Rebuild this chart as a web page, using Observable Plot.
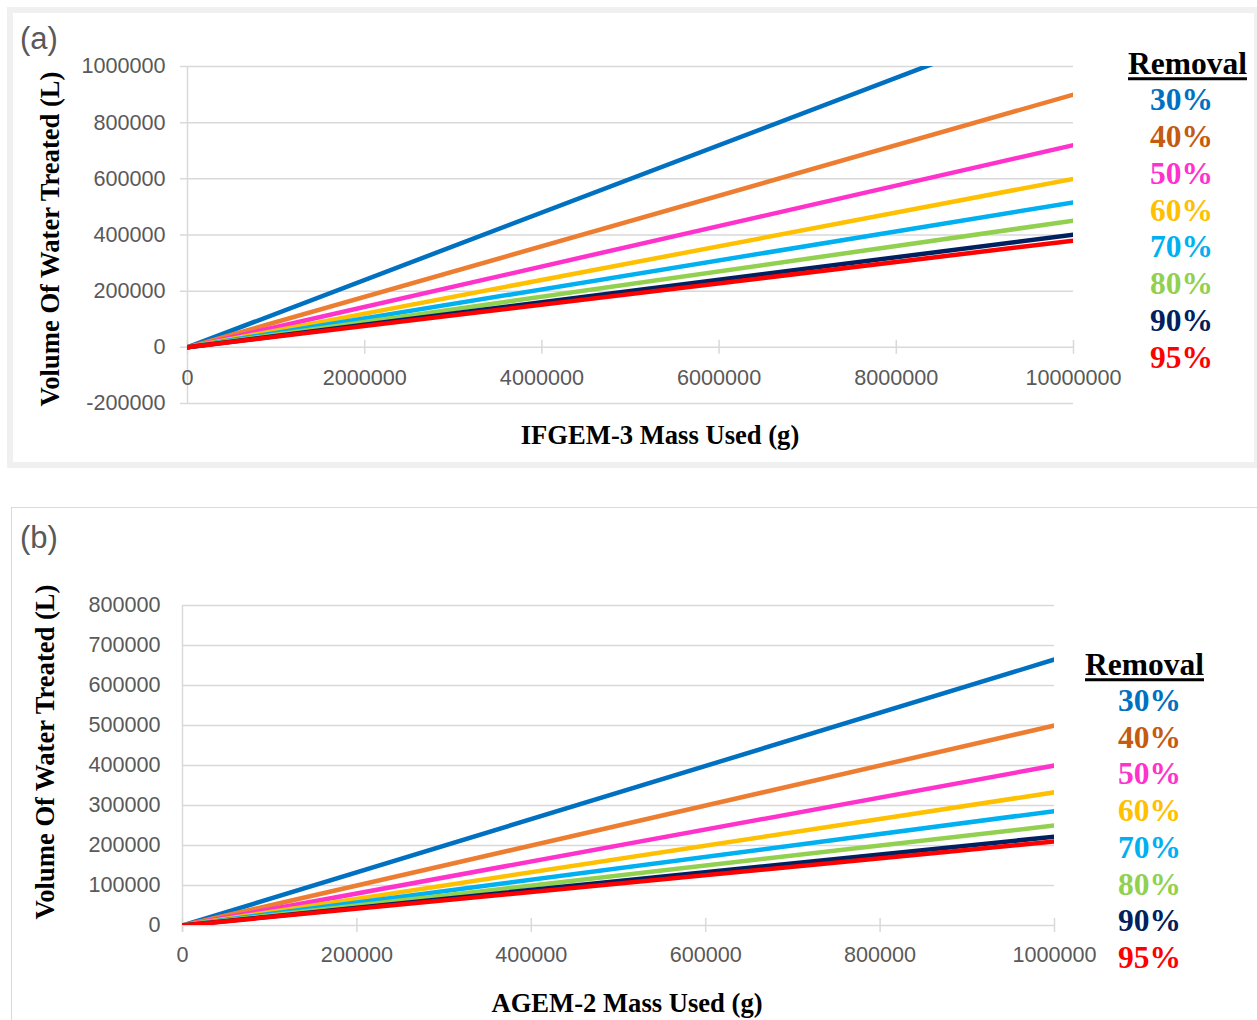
<!DOCTYPE html>
<html>
<head>
<meta charset="utf-8">
<script src="https://cdn.jsdelivr.net/npm/d3@7"></script>
<script src="https://cdn.jsdelivr.net/npm/@observablehq/plot@0.6"></script>
<style>
  body { margin: 0; background: #fff; }
  #page { position: relative; width: 1257px; height: 1020px; overflow: hidden; background: #fff; }
  .frame { position: absolute; box-sizing: border-box; }
  .panel-svg { position: absolute; left: 0; }
  .tag { position: absolute; font-family: "Liberation Sans", sans-serif; color: #595959; font-size: 31px; line-height: 1; transform: translateY(-50%); }
  .title { position: absolute; font-family: "Liberation Serif", "Times New Roman", serif; font-weight: bold; font-size: 26.6px; color: #000; white-space: nowrap; line-height: 1; }
  .xtitle { transform: translate(-50%, -50%); }
  .ytitle { transform: translate(-50%, -50%) rotate(-90deg); }
  .legend-head, .legend-item { position: absolute; font-family: "Liberation Serif", "Times New Roman", serif; font-weight: bold; font-size: 31.5px; white-space: nowrap; line-height: 1; transform: translateY(-50%); }
  .legend-head { color: #000; text-decoration: underline; text-decoration-thickness: 3px; text-underline-offset: 3px; }
</style>
</head>
<body>
<div id="page"></div>
<script>
// Removal levels, shared by both panels
const removal = ["30%", "40%", "50%", "60%", "70%", "80%", "90%", "95%"];
const lineColors = ["#0070C0", "#ED7D31", "#FF33CC", "#FFC000", "#00B0F0", "#92D050", "#002060", "#FF0000"];
const legendColors = ["#0070C0", "#C55A11", "#FF33CC", "#FFC000", "#00B0F0", "#92D050", "#002060", "#FF0000"];

// (a) IFGEM-3: mass used (g) and volume treated (L) per removal level
const massA = [0, 10000000];
const volumeA = [
  [0, 1200000],
  [0, 900000],
  [0, 720000],
  [0, 600000],
  [0, 516000],
  [0, 451000],
  [0, 401000],
  [0, 380000]
];
const xTicksA = [0, 2000000, 4000000, 6000000, 8000000, 10000000];
const yTicksA = [-200000, 0, 200000, 400000, 600000, 800000, 1000000];

// (b) AGEM-2: mass used (g) and volume treated (L) per removal level
const massB = [0, 1000000];
const volumeB = [
  [0, 665000],
  [0, 500000],
  [0, 400000],
  [0, 333000],
  [0, 286000],
  [0, 250000],
  [0, 222000],
  [0, 210000]
];
const xTicksB = [0, 200000, 400000, 600000, 800000, 1000000];
const yTicksB = [0, 100000, 200000, 300000, 400000, 500000, 600000, 700000, 800000];

const page = document.getElementById("page");
const grid = "#d9d9d9";
const tickText = "#595959";

function rowsFor(mass, volumes) {
  const rows = [];
  removal.forEach((r, i) => {
    mass.forEach((m, j) => rows.push({removal: r, mass: m, volume: volumes[i][j]}));
  });
  return rows;
}

function addEl(cls, text, style) {
  const el = document.createElement("div");
  el.className = cls;
  el.textContent = text;
  Object.assign(el.style, style);
  page.appendChild(el);
  return el;
}

function drawPanel(cfg) {
  const frame = document.createElement("div");
  frame.className = "frame";
  Object.assign(frame.style, cfg.frameStyle);
  page.appendChild(frame);

  const chart = Plot.plot({
    width: 1257,
    height: cfg.height,
    marginLeft: cfg.margin[3],
    marginRight: cfg.margin[1],
    marginTop: cfg.margin[0],
    marginBottom: cfg.margin[2],
    x: {domain: cfg.xDomain, axis: null},
    y: {domain: cfg.yDomain, axis: null},
    color: {domain: removal, range: lineColors},
    style: {fontFamily: "'Liberation Sans', sans-serif", fontSize: "21.6px", background: "transparent", overflow: "visible"},
    marks: [
      Plot.ruleY(cfg.yTicks, {stroke: grid, strokeWidth: 1.5, insetLeft: -cfg.yTickOut}),
      Plot.ruleX([cfg.xDomain[0]], {stroke: grid, strokeWidth: 1.5, insetBottom: -cfg.axisOverhang}),
      Plot.ruleX(cfg.xTicks, {x: d => d, y1: () => 0, y2: () => 0, insetTop: -7, insetBottom: -7, stroke: grid, strokeWidth: 1.5}),
      Plot.text(cfg.xTicks, {x: d => d, y: () => 0, dy: cfg.xLabelOffset, text: d => String(d), fill: tickText}),
      Plot.text(cfg.yTicks, {x: () => cfg.xDomain[0], y: d => d, dx: -22, textAnchor: "end", text: d => String(d), fill: tickText}),
      Plot.line(rowsFor(cfg.mass, cfg.volumes), {x: "mass", y: "volume", z: "removal", stroke: "removal", strokeWidth: 4.5, clip: true})
    ]
  });
  chart.classList.add("panel-svg");
  chart.style.top = cfg.top + "px";
  page.appendChild(chart);

  addEl("tag", cfg.tag, {left: "20px", top: cfg.tagY + "px"});
  addEl("title xtitle", cfg.xTitle, {left: cfg.xTitlePos[0] + "px", top: cfg.xTitlePos[1] + "px"});
  addEl("title ytitle", "Volume Of Water Treated (L)", {left: cfg.yTitlePos[0] + "px", top: cfg.yTitlePos[1] + "px"});

  addEl("legend-head", "Removal", {left: cfg.legend.headX + "px", top: cfg.legend.headY + "px"});
  removal.forEach((r, i) => {
    addEl("legend-item", r, {
      left: cfg.legend.itemX + "px",
      top: (cfg.legend.firstY + i * cfg.legend.step) + "px",
      color: legendColors[i]
    });
  });
}

drawPanel({
  frameStyle: {left: "7px", top: "7px", width: "1253px", height: "461px", border: "6px solid #f0f0f0"},
  top: 0,
  height: 468,
  margin: [66, 184, 65, 187],
  xDomain: [0, 10000000],
  yDomain: [-200000, 1000000],
  xTicks: xTicksA,
  yTicks: yTicksA,
  yTickOut: 7,
  axisOverhang: 0,
  xLabelOffset: 31,
  mass: massA,
  volumes: volumeA,
  tag: "(a)",
  tagY: 38,
  xTitle: "IFGEM-3 Mass Used (g)",
  xTitlePos: [660, 435],
  yTitlePos: [50, 239],
  legend: {headX: 1128, headY: 64, itemX: 1150, firstY: 100, step: 36.86}
});

drawPanel({
  frameStyle: {left: "11px", top: "507px", width: "1260px", height: "530px", border: "1px solid #d9d9d9"},
  top: 500,
  height: 520,
  margin: [105, 203, 95, 182],
  xDomain: [0, 1000000],
  yDomain: [0, 800000],
  xTicks: xTicksB,
  yTicks: yTicksB,
  yTickOut: 0,
  axisOverhang: 7,
  xLabelOffset: 30,
  mass: massB,
  volumes: volumeB,
  tag: "(b)",
  tagY: 537,
  xTitle: "AGEM-2 Mass Used (g)",
  xTitlePos: [627, 1003],
  yTitlePos: [45, 752],
  legend: {headX: 1085, headY: 665, itemX: 1118, firstY: 701, step: 36.71}
});
</script>
</body>
</html>
